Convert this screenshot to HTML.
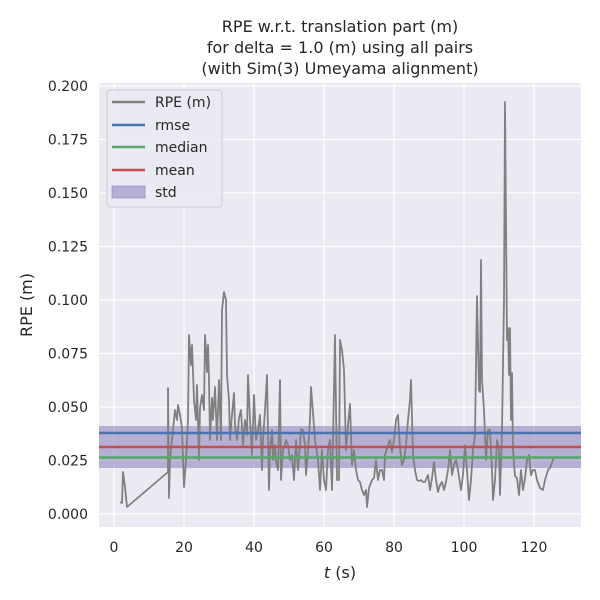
<!DOCTYPE html>
<html><head><meta charset="utf-8"><style>body{margin:0;background:#fff}svg{display:block}</style></head><body>
<svg width="600" height="600" xmlns="http://www.w3.org/2000/svg" font-family="DejaVu Sans, Liberation Sans, sans-serif">
<rect width="600" height="600" fill="#fff"/>
<rect x="99" y="83" width="482" height="444" fill="#eaeaf2"/>
<g stroke="#fff" stroke-width="1.2">
<line x1="99" x2="581" y1="514" y2="514"/><line x1="99" x2="581" y1="460.5" y2="460.5"/><line x1="99" x2="581" y1="407" y2="407"/><line x1="99" x2="581" y1="353.5" y2="353.5"/><line x1="99" x2="581" y1="300" y2="300"/><line x1="99" x2="581" y1="246.5" y2="246.5"/><line x1="99" x2="581" y1="193" y2="193"/><line x1="99" x2="581" y1="139.5" y2="139.5"/><line x1="99" x2="581" y1="86" y2="86"/>
<line y1="83" y2="527" x1="114" x2="114"/><line y1="83" y2="527" x1="184" x2="184"/><line y1="83" y2="527" x1="254" x2="254"/><line y1="83" y2="527" x1="324" x2="324"/><line y1="83" y2="527" x1="394" x2="394"/><line y1="83" y2="527" x1="464" x2="464"/><line y1="83" y2="527" x1="534" x2="534"/>
</g>
<rect x="99" y="426" width="482" height="42" fill="#8172b3" fill-opacity="0.5"/>
<polyline fill="none" stroke="#808080" stroke-width="1.8" stroke-linejoin="round" points="120,502 122,503 123,472 125,487 127,507 168,472 168,388 169,498 170,460 173,430 175,410 177,420 178,405 180,415 182,428 184,487 186,460 188,420 189,335 190,350 191,365 192,345 194,400 196,420 197,385 199,460 200,408 202,395 204,410 205,335 206,350 207,372 208,345 209,380 210,440 212,398 213,420 215,387 217,440 218,410 219,380 221,440 222,310 224,292 226,300 227,375 229,400 230,440 232,415 234,393 235,425 237,440 239,418 241,410 243,445 245,420 247,435 248,375 250,420 252,455 253,425 254,395 256,440 258,430 260,415 262,470 263,440 265,410 267,375 269,490 270,450 272,430 273,460 275,445 276,462 278,470 280,380 281,480 283,450 285,445 286,440 288,445 290,460 292,455 294,480 296,440 298,470 300,445 301,429 303,430 305,445 306,475 308,450 310,420 311,387 313,413 315,440 318,460 320,490 322,450 324,480 326,490 328,450 330,440 332,490 333,440 335,335 337,480 339,480 340,340 342,350 344,370 346,450 348,425 350,404 352,465 354,450 356,470 358,480 360,482 362,490 364,495 366,490 367,507 369,488 372,480 374,478 376,460 378,480 380,470 382,470 384,480 385,455 388,445 390,440 392,452 394,440 396,420 398,415 400,448 402,465 404,460 406,445 408,420 410,400 411,380 413,455 415,470 417,480 419,481 421,480 423,482 425,482 428,475 430,490 432,478 434,462 436,480 438,492 440,485 442,482 444,490 446,482 448,470 450,450 452,475 454,465 456,460 458,470 461,490 463,475 465,445 467,470 469,500 471,480 473,450 475,435 477,296 479,390 480,392 481,260 482,380 484,410 486,460 488,430 490,430 492,470 493,500 495,480 497,440 499,450 500,495 502,430 504,300 505,102 507,340 508,328 509,375 510,328 511,420 512,373 513,450 515,476 517,478 519,495 521,470 523,490 525,478 527,460 529,455 531,475 533,470 535,470 537,480 540,488 543,490 545,480 548,470 550,468 554,457"/>
<line x1="99" x2="581" y1="433" y2="433" stroke="#4c72b0" stroke-width="2.5"/>
<line x1="99" x2="581" y1="447" y2="447" stroke="#c44e52" stroke-width="2.5"/>
<line x1="99" x2="581" y1="457.5" y2="457.5" stroke="#55a868" stroke-width="2.5"/>
<rect x="107" y="90" width="115" height="117" rx="3" fill="#eaeaf2" fill-opacity="0.8" stroke="#ccc"/>
<g stroke-width="2.5"><line x1="112" x2="145" y1="102" y2="102" stroke="#808080"/><line x1="112" x2="145" y1="125" y2="125" stroke="#4c72b0"/><line x1="112" x2="145" y1="147" y2="147" stroke="#55a868"/><line x1="112" x2="145" y1="170" y2="170" stroke="#c44e52"/></g>
<rect x="112" y="186" width="33" height="12" fill="#8172b3" fill-opacity="0.5" stroke="#8172b3" stroke-opacity="0.5"/>
<g font-size="14" fill="#262626"><text x="155" y="107">RPE (m)</text><text x="155" y="130">rmse</text><text x="155" y="152">median</text><text x="155" y="175">mean</text><text x="155" y="197">std</text></g>
<g font-size="14" fill="#262626" text-anchor="end">
<text x="88" y="519">0.000</text><text x="88" y="465.5">0.025</text><text x="88" y="412">0.050</text><text x="88" y="358.5">0.075</text><text x="88" y="305">0.100</text><text x="88" y="251.5">0.125</text><text x="88" y="198">0.150</text><text x="88" y="144.5">0.175</text><text x="88" y="91">0.200</text></g>
<g font-size="14" fill="#262626" text-anchor="middle">
<text x="114" y="552">0</text><text x="184" y="552">20</text><text x="254" y="552">40</text><text x="324" y="552">60</text><text x="394" y="552">80</text><text x="464" y="552">100</text><text x="534" y="552">120</text></g>
<text x="340" y="578" font-size="16" fill="#262626" text-anchor="middle"><tspan font-style="italic">t</tspan> (s)</text>
<text transform="translate(32,305) rotate(-90)" font-size="16" fill="#262626" text-anchor="middle">RPE (m)</text>
<g font-size="16" fill="#262626" text-anchor="middle"><text x="340" y="32">RPE w.r.t. translation part (m)</text><text x="340" y="53">for delta = 1.0 (m) using all pairs</text><text x="340" y="74">(with Sim(3) Umeyama alignment)</text></g>
</svg>
</body></html>
